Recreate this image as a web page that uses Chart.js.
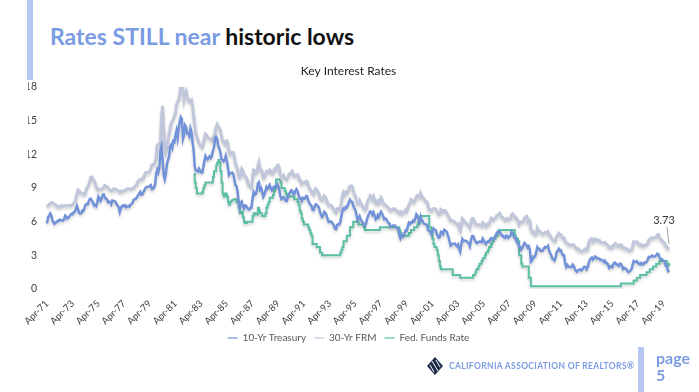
<!DOCTYPE html>
<html>
<head>
<meta charset="utf-8">
<script src="https://cdn.jsdelivr.net/npm/chart.js@4.4.1/dist/chart.umd.min.js"></script>
<style>
  html,body{margin:0;padding:0;background:#fff;}
  #wrap{position:relative;width:699px;height:392px;overflow:hidden;background:#fff;font-family:Lato,"Open Sans",sans-serif;}
  #c{position:absolute;left:0;top:0;}
  .bar{position:absolute;background:#b5c7f0;}
  #title{position:absolute;left:50px;top:25px;font-size:23px;line-height:23px;font-weight:700;white-space:nowrap;}
  #title .b{color:#7b9be3;}
  #title .k{color:#111;}
  #org{position:absolute;left:449px;top:361px;font-size:8.5px;line-height:10px;font-weight:700;color:#7b9be3;white-space:nowrap;letter-spacing:0.35px;}
  #page{position:absolute;left:656px;top:349px;font-size:16px;line-height:17px;font-weight:700;color:#7b9be3;}
  #logo{position:absolute;left:427px;top:357px;}
</style>
</head>
<body>
<div id="wrap">
  <div class="bar" style="left:27px;top:0;width:6px;height:80px;"></div>
  <div class="bar" style="left:638px;top:347px;width:6px;height:45px;"></div>
  <div id="title"><span class="b">Rates STILL near </span><span class="k">historic lows</span></div>
  <canvas id="c" width="699" height="392"></canvas>
  <svg id="logo" width="16" height="18" viewBox="0 0 16 18">
    <polygon points="8,0 16,9 8,18 0,9" fill="#1c2b4a"/>
    <line x1="5" y1="4" x2="11" y2="14" stroke="#fff" stroke-width="1"/>
    <line x1="9" y1="3" x2="13" y2="10" stroke="#fff" stroke-width="1"/>
    <line x1="3" y1="8" x2="7" y2="15" stroke="#fff" stroke-width="1"/>
  </svg>
  <div id="org">CALIFORNIA ASSOCIATION OF REALTORS®</div>
  <div id="page">page<br>5</div>
</div>
<script>
// ---- Data (monthly, Apr-1971 .. Sep-2019) ----
const startYear = 1971, startMonth = 3, monthCount = 582; // Apr-71 .. Sep-19
const tickLabels = ['Apr-71','Apr-73','Apr-75','Apr-77','Apr-79','Apr-81','Apr-83','Apr-85','Apr-87','Apr-89','Apr-91','Apr-93','Apr-95','Apr-97','Apr-99','Apr-01','Apr-03','Apr-05','Apr-07','Apr-09','Apr-11','Apr-13','Apr-15','Apr-17','Apr-19'];
const seriesNames = ['10-Yr Treasury','30-Yr FRM','Fed. Funds Rate'];

const treasury10 = [
5.83,6.39,6.52,6.73,6.58,6.14,5.93,5.81,5.93,
5.95,6.08,6.07,6.19,6.13,6.11,6.11,6.21,6.55,6.48,6.28,6.36,
6.46,6.64,6.71,6.67,6.85,6.90,7.13,7.40,7.09,6.79,6.73,6.74,
6.99,6.96,7.21,7.51,7.58,7.54,7.81,8.04,8.04,7.90,7.68,7.43,
7.50,7.39,7.73,8.23,8.06,7.86,8.06,8.40,8.43,8.14,8.05,8.00,
7.74,7.79,7.73,7.56,7.90,7.86,7.83,7.77,7.59,7.41,7.29,6.87,
7.21,7.39,7.46,7.37,7.46,7.28,7.33,7.40,7.34,7.52,7.58,7.69,
7.96,8.03,8.04,8.15,8.35,8.46,8.64,8.41,8.42,8.64,8.81,9.01,
9.10,9.10,9.12,9.18,9.25,8.91,8.95,9.03,9.33,10.30,10.65,10.39,
10.80,12.41,12.75,11.47,10.18,9.78,10.25,11.10,11.51,11.75,12.68,12.84,
12.57,13.19,13.12,13.68,14.10,13.47,14.28,14.94,15.32,15.15,13.39,13.72,
14.59,14.43,13.86,13.87,13.62,14.30,13.95,13.06,12.34,10.91,10.55,10.54,
10.46,10.72,10.51,10.40,10.38,10.85,11.38,11.85,11.65,11.54,11.69,11.83,
11.67,11.84,12.32,12.63,13.41,13.56,13.36,12.72,12.52,12.16,11.57,11.50,
11.38,11.51,11.86,11.43,10.85,10.16,10.31,10.33,10.37,10.24,9.78,9.26,
9.19,8.70,7.78,7.30,7.71,7.80,7.30,7.17,7.45,7.43,7.25,7.11,
7.08,7.25,7.25,8.02,8.61,8.40,8.45,8.76,9.42,9.52,8.86,8.99,
8.67,8.21,8.37,8.72,9.09,8.92,9.06,9.26,8.98,8.80,8.96,9.11,
9.09,9.17,9.36,9.18,8.86,8.28,8.02,8.11,8.19,8.01,7.87,7.84,
8.21,8.47,8.59,8.79,8.76,8.48,8.47,8.75,8.89,8.72,8.39,8.08,
8.09,7.85,8.11,8.04,8.07,8.28,8.27,7.90,7.65,7.53,7.42,7.09,
7.03,7.34,7.54,7.48,7.39,7.26,6.84,6.59,6.42,6.59,6.87,6.77,
6.60,6.26,5.98,5.97,6.04,5.96,5.81,5.68,5.36,5.33,5.72,5.77,
5.75,5.97,6.48,6.97,7.18,7.10,7.30,7.24,7.46,7.74,7.96,7.81,
7.78,7.47,7.20,7.06,6.63,6.17,6.28,6.49,6.20,6.04,5.93,5.71,
5.65,5.81,6.27,6.51,6.74,6.91,6.87,6.64,6.83,6.53,6.20,6.30,
6.58,6.42,6.69,6.89,6.71,6.49,6.22,6.30,6.21,6.03,5.88,5.81,
5.54,5.57,5.65,5.64,5.65,5.50,5.46,5.34,4.81,4.53,4.83,4.65,
4.72,5.00,5.23,5.18,5.54,5.90,5.79,5.94,5.92,6.11,6.03,6.28,
6.66,6.52,6.26,5.99,6.44,6.10,6.05,5.83,5.80,5.74,5.72,5.24,
5.16,5.10,4.89,5.14,5.39,5.28,5.24,4.97,4.73,4.57,4.65,5.09,
5.04,4.91,5.28,5.21,5.16,4.93,4.65,4.26,3.87,3.94,4.05,4.03,
4.05,3.90,3.81,3.96,3.57,3.33,3.98,4.45,4.27,4.29,4.30,4.27,
4.15,4.08,3.83,4.35,4.72,4.73,4.50,4.28,4.13,4.10,4.19,4.23,
4.22,4.17,4.50,4.34,4.14,4.00,4.18,4.26,4.20,4.46,4.54,4.47,
4.42,4.57,4.72,4.99,5.11,5.11,5.09,4.88,4.72,4.73,4.60,4.56,
4.76,4.72,4.56,4.69,4.75,5.10,5.00,4.67,4.52,4.53,4.15,4.10,
3.74,3.74,3.51,3.68,3.88,4.10,4.01,3.89,3.69,3.81,3.53,2.42,
2.52,2.87,2.82,2.93,3.29,3.72,3.56,3.59,3.40,3.39,3.40,3.59,
3.73,3.69,3.73,3.85,3.42,3.20,3.01,2.70,2.65,2.54,2.76,3.29,
3.39,3.58,3.41,3.46,3.17,3.00,3.00,2.30,1.98,2.15,2.01,1.98,
1.97,1.97,2.17,2.05,1.80,1.62,1.53,1.68,1.72,1.75,1.65,1.72,
1.91,1.98,1.96,1.76,1.93,2.30,2.58,2.74,2.81,2.62,2.72,2.90,
2.86,2.71,2.72,2.71,2.56,2.60,2.54,2.42,2.53,2.30,2.33,2.21,
1.88,1.98,2.04,1.94,2.20,2.36,2.32,2.17,2.17,2.07,2.26,2.24,
2.09,1.78,1.89,1.81,1.81,1.64,1.50,1.56,1.63,1.76,2.14,2.49,
2.43,2.42,2.48,2.30,2.30,2.19,2.32,2.21,2.20,2.36,2.35,2.40,
2.58,2.86,2.84,2.87,2.98,2.91,2.89,2.89,3.00,3.15,3.12,2.83,
2.71,2.68,2.57,2.53,2.40,2.07,2.06,1.62,1.48
];

const frm30 = [
7.31,7.43,7.53,7.60,7.70,7.69,7.63,7.55,7.48,
7.44,7.32,7.29,7.37,7.41,7.38,7.40,7.41,7.42,7.42,7.43,7.44,
7.44,7.44,7.46,7.54,7.65,7.73,8.05,8.50,8.82,8.77,8.58,8.54,
8.54,8.46,8.41,8.58,8.97,9.09,9.28,9.59,9.96,9.98,9.79,9.62,
9.43,9.10,8.89,8.82,8.91,8.89,8.89,8.94,9.13,9.22,9.15,9.10,
9.02,8.91,8.81,8.76,8.80,8.90,8.90,8.90,8.84,8.77,8.72,8.64,
8.72,8.67,8.69,8.75,8.83,8.86,8.94,8.94,8.90,8.92,8.92,8.96,
9.02,9.15,9.20,9.36,9.57,9.71,9.74,9.78,9.76,9.86,10.11,10.35,
10.39,10.41,10.43,10.50,10.69,11.04,11.09,11.09,11.30,11.64,12.83,12.90,
12.88,13.04,15.28,16.32,14.26,12.71,12.19,12.56,13.20,13.79,14.21,14.79,
14.90,15.13,15.40,15.58,16.40,16.70,16.83,17.29,18.16,18.45,17.83,16.92,
17.40,17.60,17.16,16.89,16.68,16.70,16.82,16.27,15.43,14.61,13.83,13.62,
13.25,13.04,12.80,12.78,12.63,12.87,13.42,13.81,13.73,13.54,13.44,13.42,
13.37,13.23,13.39,13.65,13.94,14.42,14.67,14.47,14.35,14.13,13.64,13.18,
13.08,12.92,13.17,13.20,12.91,12.22,12.03,12.19,12.19,12.14,11.78,11.26,
10.88,10.71,10.08,9.94,10.14,10.68,10.51,10.20,10.01,9.98,9.70,9.32,
9.20,9.08,9.04,9.83,10.60,10.54,10.28,10.33,10.89,11.26,10.65,10.64,
10.38,9.89,9.93,10.20,10.46,10.46,10.43,10.60,10.48,10.30,10.27,10.61,
10.73,10.65,11.03,11.05,10.77,10.20,9.88,9.99,10.13,9.95,9.77,9.74,
9.90,10.20,10.27,10.37,10.48,10.16,10.04,10.10,10.18,10.18,10.01,9.67,
9.64,9.37,9.50,9.49,9.47,9.62,9.58,9.24,9.01,8.86,8.71,8.50,
8.43,8.76,8.94,8.85,8.67,8.51,8.13,7.98,7.92,8.09,8.31,8.22,
7.99,7.68,7.50,7.47,7.47,7.42,7.21,7.11,6.92,6.83,7.16,7.17,
7.06,7.15,7.68,8.32,8.60,8.40,8.61,8.51,8.64,8.93,9.17,9.20,
9.15,8.83,8.46,8.32,7.96,7.57,7.61,7.86,7.64,7.48,7.38,7.20,
7.03,7.08,7.62,7.93,8.07,8.32,8.25,8.00,8.23,7.92,7.62,7.60,
7.82,7.65,7.90,8.14,7.94,7.69,7.50,7.48,7.43,7.29,7.21,7.10,
6.99,7.04,7.13,7.14,7.14,7.00,6.95,6.92,6.72,6.71,6.87,6.72,
6.79,6.81,7.04,6.92,7.15,7.55,7.63,7.94,7.82,7.85,7.74,7.91,
8.21,8.33,8.24,8.15,8.52,8.29,8.15,8.03,7.91,7.80,7.75,7.38,
7.03,7.05,6.95,7.08,7.15,7.16,7.13,6.95,6.82,6.62,6.66,7.07,
7.00,6.89,7.01,6.99,6.81,6.65,6.49,6.29,6.09,6.11,6.07,6.05,
5.92,5.84,5.75,5.81,5.48,5.23,5.63,6.26,6.15,5.95,5.93,5.88,
5.71,5.64,5.45,5.83,6.27,6.29,6.06,5.87,5.75,5.72,5.73,5.75,
5.71,5.63,5.93,5.86,5.72,5.58,5.70,5.82,5.77,6.07,6.33,6.27,
6.15,6.25,6.32,6.51,6.60,6.68,6.76,6.52,6.40,6.36,6.24,6.14,
6.22,6.29,6.16,6.18,6.26,6.66,6.70,6.57,6.38,6.38,6.21,6.10,
5.76,5.92,5.97,5.92,6.04,6.32,6.43,6.48,6.04,6.20,6.09,5.29,
5.06,5.13,5.00,4.81,4.86,5.42,5.22,5.19,5.06,4.95,4.88,4.93,
5.03,4.99,4.97,5.10,4.89,4.74,4.56,4.43,4.35,4.23,4.30,4.71,
4.76,4.95,4.84,4.84,4.64,4.51,4.55,4.27,4.11,4.07,3.99,3.96,
3.92,3.89,3.95,3.91,3.80,3.68,3.55,3.60,3.50,3.38,3.35,3.35,
3.41,3.53,3.57,3.45,3.54,4.07,4.37,4.46,4.49,4.19,4.26,4.46,
4.43,4.30,4.34,4.34,4.19,4.16,4.13,4.12,4.16,4.04,4.00,3.86,
3.67,3.71,3.77,3.67,3.84,3.98,4.05,3.91,3.89,3.80,3.94,3.96,
3.87,3.66,3.69,3.61,3.60,3.57,3.44,3.44,3.46,3.47,3.77,4.20,
4.15,4.17,4.20,4.05,4.01,3.90,3.97,3.88,3.81,3.90,3.92,3.95,
4.03,4.33,4.44,4.47,4.59,4.57,4.53,4.55,4.63,4.83,4.87,4.64,
4.46,4.37,4.27,4.14,4.07,3.80,3.77,3.62,3.73
];

const fedFunds = [
null,null,null,null,null,null,null,null,null,
null,null,null,null,null,null,null,null,null,null,null,null,
null,null,null,null,null,null,null,null,null,null,null,null,
null,null,null,null,null,null,null,null,null,null,null,null,
null,null,null,null,null,null,null,null,null,null,null,null,
null,null,null,null,null,null,null,null,null,null,null,null,
null,null,null,null,null,null,null,null,null,null,null,null,
null,null,null,null,null,null,null,null,null,null,null,null,
null,null,null,null,null,null,null,null,null,null,null,null,
null,null,null,null,null,null,null,null,null,null,null,null,
null,null,null,null,null,null,null,null,null,null,null,null,
null,null,null,null,null,null,null,null,10.25,9.5,9.0,8.5,
8.5,8.5,8.5,8.5,8.63,9.0,9.25,9.5,9.5,9.5,9.5,9.5,
9.5,9.5,10.0,10.5,10.5,11.0,11.25,11.5,11.25,10.5,9.5,8.5,
8.25,8.5,8.5,8.25,7.75,7.5,7.75,7.88,7.88,8.0,8.0,8.0,
7.75,7.75,7.25,6.75,6.75,6.88,6.38,6.0,5.88,5.88,6.0,6.0,
6.0,6.0,6.0,6.5,6.75,6.75,6.63,6.63,7.25,7.0,6.75,6.75,
6.5,6.5,6.5,6.75,7.25,7.5,7.75,8.13,8.13,8.13,8.38,8.75,
9.0,9.75,9.75,9.75,9.75,9.5,9.0,9.0,9.0,8.75,8.5,8.25,
8.25,8.25,8.25,8.25,8.25,8.25,8.0,8.0,8.0,7.75,7.5,7.0,
6.75,6.25,6.0,5.75,5.75,5.75,5.75,5.5,5.25,5.0,4.75,4.0,
4.0,4.0,4.0,3.75,3.75,3.75,3.25,3.25,3.0,3.0,3.0,3.0,
3.0,3.0,3.0,3.0,3.0,3.0,3.0,3.0,3.0,3.0,3.0,3.0,
3.0,3.25,3.5,3.75,4.25,4.25,4.25,4.75,4.75,4.75,5.5,5.5,
5.5,6.0,6.0,6.0,6.0,6.0,5.75,5.75,5.75,5.75,5.75,5.5,
5.25,5.25,5.25,5.25,5.25,5.25,5.25,5.25,5.25,5.25,5.25,5.25,
5.25,5.25,5.5,5.5,5.5,5.5,5.5,5.5,5.5,5.5,5.5,5.5,
5.5,5.5,5.5,5.5,5.5,5.5,5.5,5.5,5.25,5.0,4.75,4.75,
4.75,4.75,4.75,4.75,4.75,5.0,5.0,5.25,5.25,5.25,5.5,5.5,
5.5,5.75,6.0,6.0,6.5,6.5,6.5,6.5,6.5,6.5,6.5,6.5,
5.5,5.5,5.0,4.5,4.0,3.75,3.75,3.5,3.0,2.5,2.0,1.75,
1.75,1.75,1.75,1.75,1.75,1.75,1.75,1.75,1.75,1.75,1.25,1.25,
1.25,1.25,1.25,1.25,1.25,1.0,1.0,1.0,1.0,1.0,1.0,1.0,
1.0,1.0,1.0,1.0,1.0,1.25,1.25,1.5,1.75,1.75,2.0,2.25,
2.25,2.5,2.75,2.75,3.0,3.25,3.25,3.5,3.75,3.75,4.0,4.25,
4.5,4.5,4.75,4.75,5.0,5.25,5.25,5.25,5.25,5.25,5.25,5.25,
5.25,5.25,5.25,5.25,5.25,5.25,5.25,5.25,4.75,4.5,4.5,4.25,
3.0,3.0,2.25,2.0,2.0,2.0,2.0,2.0,2.0,1.0,1.0,0.25,
0.25,0.25,0.25,0.25,0.25,0.25,0.25,0.25,0.25,0.25,0.25,0.25,
0.25,0.25,0.25,0.25,0.25,0.25,0.25,0.25,0.25,0.25,0.25,0.25,
0.25,0.25,0.25,0.25,0.25,0.25,0.25,0.25,0.25,0.25,0.25,0.25,
0.25,0.25,0.25,0.25,0.25,0.25,0.25,0.25,0.25,0.25,0.25,0.25,
0.25,0.25,0.25,0.25,0.25,0.25,0.25,0.25,0.25,0.25,0.25,0.25,
0.25,0.25,0.25,0.25,0.25,0.25,0.25,0.25,0.25,0.25,0.25,0.25,
0.25,0.25,0.25,0.25,0.25,0.25,0.25,0.25,0.25,0.25,0.25,0.5,
0.5,0.5,0.5,0.5,0.5,0.5,0.5,0.5,0.5,0.5,0.5,0.75,
0.75,0.75,1.0,1.0,1.0,1.25,1.25,1.25,1.25,1.25,1.25,1.5,
1.5,1.5,1.75,1.75,1.75,2.0,2.0,2.0,2.25,2.25,2.25,2.5,
2.5,2.5,2.5,2.5,2.5,2.5,2.25,2.25,2.0
];

const lastLabelValue = '3.73';

// category labels (one per month)
const monthNames = ['Jan','Feb','Mar','Apr','May','Jun','Jul','Aug','Sep','Oct','Nov','Dec'];
const categories = [];
for (let i = 0; i < monthCount; i++) {
  const m = (startMonth + i) % 12;
  const y = startYear + Math.floor((startMonth + i) / 12);
  categories.push(monthNames[m] + '-' + String(y % 100).padStart(2, '0'));
}

const colors = ['#7191d9', '#c0c7da', '#5bbfa5'];
const FONT = 'Lato, "Open Sans", sans-serif';

const shadowPlugin = {
  id: 'shadow',
  beforeDatasetDraw(chart) {
    const ctx = chart.ctx; ctx.save();
    ctx.shadowColor = 'rgba(0,0,0,0.18)'; ctx.shadowBlur = 3; ctx.shadowOffsetY = 2;
  },
  afterDatasetDraw(chart) { chart.ctx.restore(); }
};

const endLabelPlugin = {
  id: 'endLabel',
  afterDatasetsDraw(chart) {
    const meta = chart.getDatasetMeta(1);
    const pt = meta.data[meta.data.length - 1];
    if (!pt) return;
    const ctx = chart.ctx; ctx.save();
    ctx.strokeStyle = '#8c8c8c'; ctx.lineWidth = 0.8;
    ctx.beginPath(); ctx.moveTo(pt.x - 2, pt.y - 20); ctx.lineTo(pt.x, pt.y - 3); ctx.stroke();
    ctx.fillStyle = '#333'; ctx.font = '11px ' + FONT; ctx.textAlign = 'center'; ctx.textBaseline = 'middle';
    ctx.fillText(lastLabelValue, pt.x - 5, pt.y - 27);
    ctx.restore();
  }
};

new Chart(document.getElementById('c'), {
  type: 'line',
  data: {
    labels: categories,
    datasets: [
      { label: seriesNames[0], data: treasury10, borderColor: colors[0], backgroundColor: colors[0], borderWidth: 2.5, pointRadius: 0, tension: 0 },
      { label: seriesNames[1], data: frm30, borderColor: colors[1], backgroundColor: colors[1], borderWidth: 3, pointRadius: 0, tension: 0 },
      { label: seriesNames[2], data: fedFunds, borderColor: colors[2], backgroundColor: colors[2], borderWidth: 2, pointRadius: 0, stepped: true, spanGaps: false }
    ]
  },
  options: {
    responsive: false,
    animation: false,
    layout: { padding: { left: 28, right: 30, top: 0, bottom: 39 } },
    plugins: {
      title: { display: true, text: 'Key Interest Rates', color: '#222', font: { family: FONT, size: 12, weight: 'normal' }, padding: { top: 64, bottom: 8.6 } },
      legend: {
        display: true, position: 'bottom',
        labels: {
          color: '#595959', font: { family: FONT, size: 10 }, usePointStyle: true, pointStyle: 'line', pointStyleWidth: 10, padding: 8,
          generateLabels(chart) {
            return Chart.defaults.plugins.legend.labels.generateLabels(chart).map(l => Object.assign(l, { lineWidth: 1.2, pointStyle: 'line' }));
          }
        }
      },
      tooltip: { enabled: false }
    },
    scales: {
      x: {
        type: 'category',
        grid: { display: false, drawTicks: false }, border: { display: false },
        ticks: {
          autoSkip: false, minRotation: 45, maxRotation: 45, padding: 9, color: '#404040', font: { family: FONT, size: 9.5 },
          callback(v) { const l = this.getLabelForValue(v); return tickLabels.includes(l) ? l : ''; }
        },
        afterFit(s) { s.height = 36; }
      },
      y: {
        min: 0, max: 18,
        grid: { display: false, drawTicks: false }, border: { display: false },
        ticks: { stepSize: 3, padding: 10, color: '#404040', font: { family: FONT, size: 10.5 } },
        afterFit(s) { s.width = 19; }
      }
    }
  },
  plugins: [shadowPlugin, endLabelPlugin]
});
</script>
</body>
</html>
